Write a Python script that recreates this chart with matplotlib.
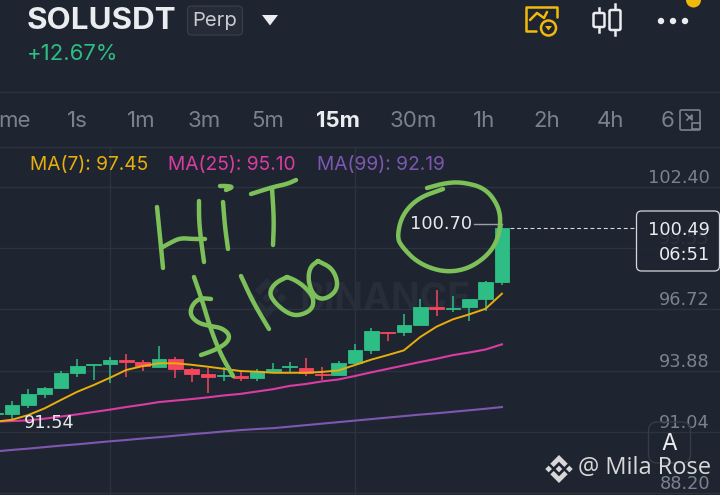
import matplotlib

matplotlib.use("Agg")
import matplotlib.pyplot as plt
import numpy as np
from matplotlib.patches import Circle, FancyBboxPatch, Polygon, Rectangle

BG = "#1E2530"
GRID = "#2D333E"
UP = "#2EBD85"
DOWN = "#F6465D"
DIM = "#7B828F"
PEN = "#7DC05A"
FONT = ["Inter", "DejaVu Sans"]
NUM_FONT = ["DejaVu Sans"]

# candle data, index -1 is the one cut off by the left edge
candle_idx = list(range(-1, 31))
opens = [91.88, 91.87, 92.28, 92.80, 93.06, 93.76, 94.13, 94.19, 94.36, 94.28, 94.06, 94.42,
         93.96, 93.72, 93.62, 93.64, 93.55, 93.85, 94.03, 94.00, 93.74, 93.69, 94.22, 94.85,
         95.69, 95.66, 96.01, 96.85, 96.74, 96.83, 97.22, 97.99]
closes = [91.93, 92.27, 92.78, 93.06, 93.76, 94.11, 94.19, 94.37, 94.29, 94.08, 94.42, 93.96,
          93.72, 93.57, 93.66, 93.55, 93.86, 93.97, 94.09, 93.76, 93.66, 94.22, 94.84, 95.70,
          95.64, 96.00, 96.85, 96.73, 96.80, 97.22, 97.99, 100.49]
highs = [91.95, 92.46, 93.01, 93.11, 93.88, 94.41, 94.19, 94.53, 94.65, 94.37, 95.04, 94.50,
         93.99, 93.99, 94.03, 93.88, 93.94, 94.25, 94.29, 94.45, 94.03, 94.33, 95.10, 95.86,
         95.69, 96.51, 97.20, 97.62, 97.36, 97.22, 98.04, 100.70]
lows = [91.80, 91.65, 92.16, 92.61, 93.06, 93.57, 93.44, 93.32, 93.60, 93.88, 94.06, 93.55,
        93.37, 92.86, 93.41, 93.40, 93.40, 93.76, 93.80, 93.63, 93.44, 93.69, 94.22, 94.64,
        95.25, 95.50, 96.01, 96.43, 96.61, 96.20, 96.66, 97.87]

ma7 = [91.51, 91.60, 91.82, 92.13, 92.52, 92.90, 93.21, 93.55, 93.91, 94.09, 94.22, 94.22,
       94.15, 94.06, 93.96, 93.86, 93.83, 93.78, 93.78, 93.78, 93.82, 93.89, 94.14, 94.39,
       94.60, 94.82, 95.44, 95.92, 96.26, 96.49, 96.75, 97.45]
ma25 = [91.51, 91.54, 91.57, 91.65, 91.75, 91.85, 91.96, 92.07, 92.19, 92.30, 92.42, 92.49,
        92.56, 92.64, 92.73, 92.80, 92.91, 93.02, 93.17, 93.26, 93.38, 93.47, 93.63, 93.80,
        93.96, 94.12, 94.28, 94.43, 94.60, 94.72, 94.86, 95.10]
ma99 = [90.13, 90.20, 90.26, 90.33, 90.40, 90.46, 90.53, 90.60, 90.66, 90.73, 90.79, 90.86,
        90.93, 90.99, 91.06, 91.12, 91.17, 91.21, 91.28, 91.35, 91.42, 91.49, 91.56, 91.63,
        91.70, 91.77, 91.84, 91.90, 91.97, 92.04, 92.11, 92.19]
ma_idx = list(range(-1, 31))

price_ticks = [102.40, 99.55, 96.72, 93.88, 91.04, 88.20]
price_labels = ["102.40", "99.55", "96.72", "93.88", "91.04", "88.20"]
time_grid = [6, 21]
last_price = 100.49
high_mark = 100.70
low_mark = 91.54

timeframes = ["me", "1s", "1m", "3m", "5m", "15m", "30m", "1h", "2h", "4h", "6"]
timeframe_x = [14, 77, 141, 204, 268, 338, 413, 484, 547, 610, 668]

# handwriting on top of the screenshot, in screen pixels
strokes = [
    [(157, 207), (159, 227), (161, 247), (163, 268)],
    [(161, 248), (170, 243), (180, 238), (193, 239), (205, 239)],
    [(199, 201), (199, 220), (201, 240), (204, 262)],
    [(220, 186), (227, 186), (233, 187), (226, 190)],
    [(223, 202), (225, 227), (228, 249)],
    [(251, 194), (273, 187), (287, 184), (296, 180)],
    [(272, 188), (274, 220), (273, 245)],
    [(194, 277), (202, 300), (210, 327), (220, 353), (233, 376)],
    [(211, 299), (200, 298), (192, 305), (190, 315), (198, 323), (210, 326), (222, 328),
     (230, 335), (227, 343), (215, 350), (201, 355)],
    [(241, 276), (253, 302), (269, 329)],
    [(287, 277), (275, 283), (269, 293), (275, 303), (287, 313), (298, 316), (312, 310),
     (314, 298), (305, 287), (295, 280), (287, 277)],
    [(318, 261), (310, 267), (308, 280), (313, 295), (323, 300), (335, 293), (338, 282),
     (332, 268), (318, 261)],
    [(427, 188), (445, 183), (462, 182), (485, 188), (498, 205), (501, 222), (497, 242),
     (485, 258), (465, 270), (442, 272), (418, 263), (402, 247), (397, 237), (402, 215),
     (418, 198), (443, 189)],
]


def smooth(points, rounds=3):
    # corner cutting, keeps the end points
    pts = np.array(points, dtype=float)
    for _ in range(rounds):
        q = 0.75 * pts[:-1] + 0.25 * pts[1:]
        r = 0.25 * pts[:-1] + 0.75 * pts[1:]
        mid = np.empty((len(q) * 2, 2))
        mid[0::2] = q
        mid[1::2] = r
        pts = np.vstack([pts[0], mid, pts[-1]])
    return pts


def binance_logo(axis, cx, cy, size, color, zorder=2):
    s = size
    def diamond(x, y, r):
        axis.add_patch(Polygon([(x, y - r), (x + r, y), (x, y + r), (x - r, y)],
                               closed=True, fc=color, ec="none", zorder=zorder))
    diamond(cx, cy, 0.24 * s)
    diamond(cx - 0.74 * s, cy, 0.24 * s)
    diamond(cx + 0.74 * s, cy, 0.24 * s)
    top = [(cx, cy - s), (cx + 0.62 * s, cy - 0.38 * s), (cx + 0.38 * s, cy - 0.14 * s),
           (cx, cy - 0.52 * s), (cx - 0.38 * s, cy - 0.14 * s), (cx - 0.62 * s, cy - 0.38 * s)]
    axis.add_patch(Polygon(top, closed=True, fc=color, ec="none", zorder=zorder))
    bottom = [(x, 2 * cy - y) for x, y in top]
    axis.add_patch(Polygon(bottom, closed=True, fc=color, ec="none", zorder=zorder))


fig = plt.figure(figsize=(7.2, 4.95), dpi=100, facecolor=BG)


def pixel_axes(z):
    a = fig.add_axes([0, 0, 1, 1], zorder=z)
    a.set_xlim(0, 720)
    a.set_ylim(495, 0)
    a.axis("off")
    return a


under = pixel_axes(0)
over = pixel_axes(2)

# faint watermark behind the candles
binance_logo(under, 267, 298, 20, "#282E39")
under.text(300, 300, "BINANCE", color="#282E39", fontsize=27, fontweight="bold", family=FONT,
           va="center", ha="left")

# price chart
ax = fig.add_axes([0, 0, 1, 348 / 495], zorder=1)
ax.patch.set_visible(False)
ax.set_xlim(-0.735, 43.355)
ax.set_ylim(88.108, 104.256)
for side in ax.spines.values():
    side.set_visible(False)
ax.set_axisbelow(True)
ax.grid(True, color=GRID, lw=1.0)
ax.set_xticks(time_grid, [""] * len(time_grid))
ax.set_yticks(price_ticks, price_labels)
ax.yaxis.tick_right()
ax.tick_params(axis="both", length=0)
ax.tick_params(axis="y", pad=-7.2, labelsize=12.8, labelcolor=DIM)
for tick in ax.get_yticklabels():
    tick.set_ha("right")
    tick.set_va("bottom")
    tick.set_family(NUM_FONT)

colors = [UP if c >= o else DOWN for o, c in zip(opens, closes)]
ax.vlines(candle_idx, lows, highs, colors=colors, lw=1.1, zorder=3)
ax.bar(candle_idx, np.abs(np.array(closes) - np.array(opens)), bottom=np.minimum(opens, closes),
       width=0.89, color=colors, edgecolor=colors, linewidth=0.6, zorder=3)
ax.plot(ma_idx, ma99, color="#7D57B0", lw=1.5, zorder=4)
ax.plot(ma_idx, ma25, color="#DB3CA3", lw=1.5, zorder=4)
ax.plot(ma_idx, ma7, color="#E8AE0C", lw=1.4, zorder=5)

ax.plot([28.3, 30], [high_mark, high_mark], color="#9AA0A8", lw=1.0, zorder=3)
ax.text(28.2, high_mark, f"{high_mark:.2f}", color="#E6E8EA", fontsize=12.8, family=NUM_FONT,
        ha="right", va="center", zorder=6)
ax.text(0.72, 91.45, f"{low_mark:.2f}", color="#E6E8EA", fontsize=12.8, family=NUM_FONT,
        ha="left", va="center", zorder=6)
ax.plot([30.5, 38.25], [last_price, last_price], color="#D5D8DC", lw=0.8, ls=(0, (3.5, 2.5)), zorder=3)

# header
over.plot([0, 720], [92, 92], color=GRID, lw=1.0)
over.plot([0, 720], [147, 147], color=GRID, lw=1.0)
over.text(27, 21, "SOLUSDT", color="#EAECEF", fontsize=22.6, fontweight="bold", family=FONT, va="center")
over.add_patch(FancyBboxPatch((187.5, 6), 55, 29, boxstyle="round,pad=0,rounding_size=4",
                              fc="#262C37", ec="#3A404B", lw=0.8))
over.text(215, 21, "Perp", color="#C9CCD1", fontsize=14.6, family=FONT, ha="center", va="center")
over.add_patch(Polygon([(262, 15), (278, 15), (270, 25.5)], closed=True, fc="#EAECEF", ec="none"))
over.text(27, 54, "+12.67%", color=UP, fontsize=15.9, family=FONT, va="center")

# yellow chart alert icon
yellow = "#F0B90B"
over.plot([536, 526, 526, 557, 557], [30.5, 30.5, 6.5, 6.5, 17], color=yellow, lw=1.8, solid_capstyle="round")
over.plot([530, 537, 544, 547], [20, 13, 18, 12], color=yellow, lw=1.8, solid_capstyle="round")
over.add_patch(Circle((548.5, 28), 7.5, fc=BG, ec=yellow, lw=1.8))
over.add_patch(Polygon([(545, 26), (552, 26), (548.5, 30.5)], closed=True, fc=yellow, ec="none"))

# candle style icon
for cx, x0, x1, y0, y1, wy0, wy1 in [(599, 593.5, 604.5, 13, 27, 8, 32), (615, 609.5, 620.5, 10, 30, 4, 35)]:
    over.plot([cx, cx], [wy0, wy1], color="#EAECEF", lw=1.8)
    over.add_patch(FancyBboxPatch((x0, y0), x1 - x0, y1 - y0, boxstyle="round,pad=0,rounding_size=1.5",
                                  fc=BG, ec="#EAECEF", lw=1.8, zorder=3))
for cx in [661, 673, 685]:
    over.add_patch(Circle((cx, 21), 3.2, fc="#EAECEF", ec="none"))
over.add_patch(Circle((693.5, 0), 7.5, fc=yellow, ec="none"))

# timeframe row
for name, x in zip(timeframes, timeframe_x):
    active = name == "15m"
    over.text(x, 121, name, color="#EAECEF" if active else DIM, fontsize=16, family=FONT,
              fontweight="bold" if active else "normal", ha="center", va="center")
over.add_patch(Rectangle((677, 108), 43, 24, fc=BG, ec="none", zorder=3))
over.add_patch(FancyBboxPatch((680, 110), 20, 20, boxstyle="round,pad=0,rounding_size=1.5",
                              fc=BG, ec=DIM, lw=1.2, zorder=4))
over.add_patch(Rectangle((692, 123), 7.5, 6, fc=BG, ec=DIM, lw=1.2, zorder=5))
over.plot([686, 692, 692, 687], [114, 120, 115, 120], color=DIM, lw=1.2, zorder=5)

# moving average legend
over.text(30, 165, "MA(7): 97.45", color="#E8AE0C", fontsize=13.8, family=FONT, va="center")
over.text(168, 165, "MA(25): 95.10", color="#DB3CA3", fontsize=13.8, family=FONT, va="center")
over.text(317, 165, "MA(99): 92.19", color="#7D57B0", fontsize=13.8, family=FONT, va="center")

# countdown box, the grid label below it stays faintly visible
over.add_patch(FancyBboxPatch((636.5, 211), 83, 60, boxstyle="round,pad=0,rounding_size=5",
                              fc=BG, alpha=0.85, ec="none"))
over.add_patch(FancyBboxPatch((636.5, 211), 83, 60, boxstyle="round,pad=0,rounding_size=5",
                              fc="none", ec="#D5D8DC", lw=0.9))
over.text(710, 230, f"{last_price:.2f}", color="#EAECEF", fontsize=12.8, family=NUM_FONT, ha="right", va="center")
over.text(710, 255, "06:51", color="#EAECEF", fontsize=12.8, family=NUM_FONT, ha="right", va="center")

# auto scale button
over.add_patch(FancyBboxPatch((648.5, 422), 42, 41, boxstyle="round,pad=0,rounding_size=9",
                              fc="none", ec="#363C47", lw=1.0))
over.text(669.5, 443.5, "A", color="#EAECEF", fontsize=16.5, family=FONT, ha="center", va="center")

# repost watermark
binance_logo(over, 559, 469, 14, "#D8D8D8", zorder=6)
over.text(578, 468, "@ Mila Rose", color="#D8D8D8", fontsize=17, family=["Open Sans", "DejaVu Sans"],
          va="center", zorder=6)

for stroke in strokes:
    pts = smooth(stroke)
    over.plot(pts[:, 0], pts[:, 1], color=PEN, lw=3.2, solid_capstyle="round", solid_joinstyle="round", zorder=7)

fig.savefig("out.png", dpi=100, facecolor=BG)
plt.close(fig)
